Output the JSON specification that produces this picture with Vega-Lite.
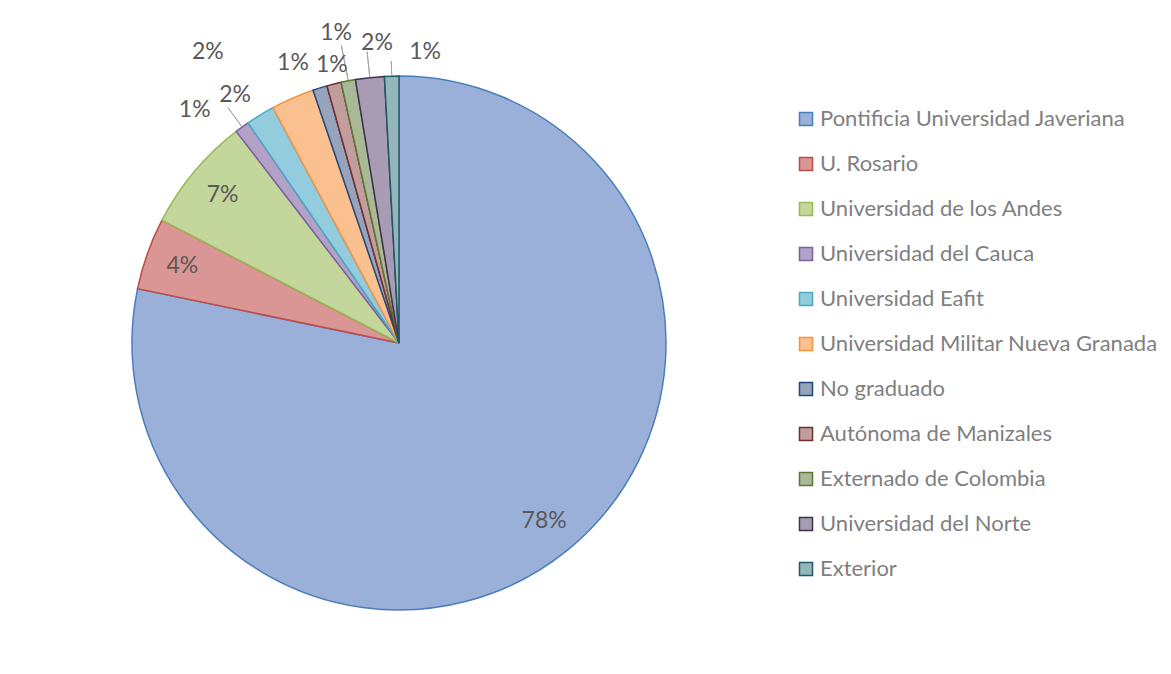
{
  "$schema": "https://vega.github.io/schema/vega-lite/v6.json",
  "width": 798,
  "height": 662,
  "autosize": {"type": "none"},
  "padding": {"left": 0, "top": 12, "right": 373, "bottom": 0},
  "background": "white",
  "config": {"view": {"stroke": null}, "font": "Lato"},
  "data": {"values": [
    {"i": 1, "name": "Pontificia Universidad Javeriana", "n": 90, "label": "78%"},
    {"i": 2, "name": "U. Rosario", "n": 5, "label": "4%"},
    {"i": 3, "name": "Universidad de los Andes", "n": 8, "label": "7%"},
    {"i": 4, "name": "Universidad del Cauca", "n": 1, "label": "1%"},
    {"i": 5, "name": "Universidad Eafit", "n": 2, "label": "2%"},
    {"i": 6, "name": "Universidad Militar Nueva Granada", "n": 3, "label": "2%"},
    {"i": 7, "name": "No graduado", "n": 1, "label": "1%"},
    {"i": 8, "name": "Autónoma de Manizales", "n": 1, "label": "1%"},
    {"i": 9, "name": "Externado de Colombia", "n": 1, "label": "1%"},
    {"i": 10, "name": "Universidad del Norte", "n": 2, "label": "2%"},
    {"i": 11, "name": "Exterior", "n": 1, "label": "1%"}
  ]},
  "encoding": {
    "theta": {"field": "n", "type": "quantitative", "stack": true},
    "order": {"field": "i", "type": "quantitative"}
  },
  "layer": [
    {
      "mark": {"type": "arc", "radius": 267, "strokeWidth": 1.5},
      "encoding": {
        "color": {
          "field": "name", "type": "nominal",
          "scale": {
            "domain": ["Pontificia Universidad Javeriana", "U. Rosario", "Universidad de los Andes", "Universidad del Cauca", "Universidad Eafit", "Universidad Militar Nueva Granada", "No graduado", "Autónoma de Manizales", "Externado de Colombia", "Universidad del Norte", "Exterior"],
            "range": ["#9ab0d9", "#d99694", "#c3d69b", "#b3a2c7", "#93cddd", "#fac090", "#95a3bb", "#c09e9d", "#a9b896", "#a79cb4", "#94b6ba"]
          },
          "legend": {
            "title": null, "orient": "none", "legendX": 795, "legendY": 96,
            "symbolType": "square", "symbolSize": 170, "symbolStrokeWidth": 1.5,
            "labelFont": "Lato", "labelFontSize": 22, "labelColor": "#7f7f7f",
            "rowPadding": 23, "labelOffset": 3, "labelLimit": 500
          }
        },
        "stroke": {
          "field": "name", "type": "nominal",
          "scale": {
            "domain": ["Pontificia Universidad Javeriana", "U. Rosario", "Universidad de los Andes", "Universidad del Cauca", "Universidad Eafit", "Universidad Militar Nueva Granada", "No graduado", "Autónoma de Manizales", "Externado de Colombia", "Universidad del Norte", "Exterior"],
            "range": ["#4a7ebb", "#be4b48", "#98b954", "#7d60a0", "#46aac5", "#f69240", "#1f497d", "#772c2a", "#5f7530", "#403152", "#215968"]
          }
        }
      }
    },
    {
      "mark": {"type": "arc", "radius": 291, "radius2": 268, "padAngle": 3, "fill": "white", "fillOpacity": 0, "stroke": "#a6a6a6", "strokeWidth": 1},
      "encoding": {"strokeOpacity": {"condition": {"test": "datum.i === 4", "value": 1}, "value": 0}}
    },
    {
      "mark": {"type": "arc", "radius": 303, "radius2": 268, "padAngle": 3, "fill": "white", "fillOpacity": 0, "stroke": "#a6a6a6", "strokeWidth": 1},
      "encoding": {"strokeOpacity": {"condition": {"test": "datum.i === 9", "value": 1}, "value": 0}}
    },
    {
      "mark": {"type": "arc", "radius": 293, "radius2": 268, "padAngle": 3, "fill": "white", "fillOpacity": 0, "stroke": "#a6a6a6", "strokeWidth": 1},
      "encoding": {"strokeOpacity": {"condition": {"test": "datum.i === 10", "value": 1}, "value": 0}}
    },
    {
      "mark": {"type": "arc", "radius": 282, "radius2": 268, "padAngle": 3, "fill": "white", "fillOpacity": 0, "stroke": "#a6a6a6", "strokeWidth": 1},
      "encoding": {"strokeOpacity": {"condition": {"test": "datum.i === 11", "value": 1}, "value": 0}}
    },
    {
      "mark": {"type": "text", "radius": 230, "fontSize": 23, "font": "Lato", "color": "#595959"},
      "encoding": {"text": {"condition": {"test": "datum.i <= 3", "field": "label"}, "value": ""}}
    },
    {
      "mark": {"type": "text", "radius": 310, "thetaOffset": -0.091, "fontSize": 23, "font": "Lato", "color": "#595959"},
      "encoding": {"text": {"condition": {"test": "datum.i === 4", "field": "label"}, "value": ""}}
    },
    {
      "mark": {"type": "text", "radius": 297, "thetaOffset": -0.038, "fontSize": 23, "font": "Lato", "color": "#595959"},
      "encoding": {"text": {"condition": {"test": "datum.i === 5", "field": "label"}, "value": ""}}
    },
    {
      "mark": {"type": "text", "radius": 348, "thetaOffset": -0.172, "fontSize": 23, "font": "Lato", "color": "#595959"},
      "encoding": {"text": {"condition": {"test": "datum.i === 6", "field": "label"}, "value": ""}}
    },
    {
      "mark": {"type": "text", "radius": 299, "thetaOffset": -0.062, "fontSize": 23, "font": "Lato", "color": "#595959"},
      "encoding": {"text": {"condition": {"test": "datum.i === 7", "field": "label"}, "value": ""}}
    },
    {
      "mark": {"type": "text", "radius": 286, "thetaOffset": 0.009, "fontSize": 23, "font": "Lato", "color": "#595959"},
      "encoding": {"text": {"condition": {"test": "datum.i === 8", "field": "label"}, "value": ""}}
    },
    {
      "mark": {"type": "text", "radius": 316, "thetaOffset": -0.009, "fontSize": 23, "font": "Lato", "color": "#595959"},
      "encoding": {"text": {"condition": {"test": "datum.i === 9", "field": "label"}, "value": ""}}
    },
    {
      "mark": {"type": "text", "radius": 301, "thetaOffset": 0.036, "fontSize": 23, "font": "Lato", "color": "#595959"},
      "encoding": {"text": {"condition": {"test": "datum.i === 10", "field": "label"}, "value": ""}}
    },
    {
      "mark": {"type": "text", "radius": 292, "thetaOffset": 0.117, "fontSize": 23, "font": "Lato", "color": "#595959"},
      "encoding": {"text": {"condition": {"test": "datum.i === 11", "field": "label"}, "value": ""}}
    }
  ]
}
